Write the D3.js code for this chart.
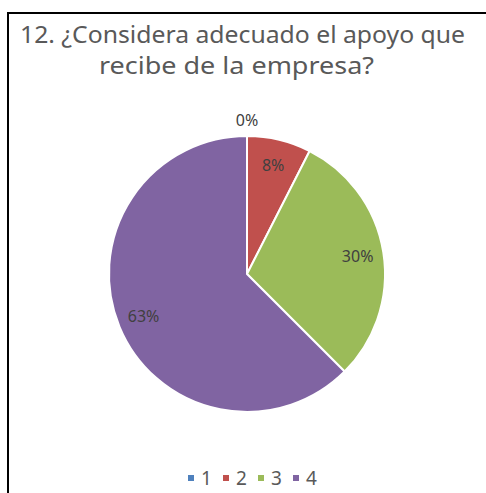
<!DOCTYPE html>
<html>
<head>
<meta charset="utf-8">
<script src="https://cdn.jsdelivr.net/npm/d3@7"></script>
<style>
  html, body { margin: 0; padding: 0; background: #fff; }
  svg { display: block; }
</style>
</head>
<body>
<script>
// chart data
var categories = ['1', '2', '3', '4'];
var counts = [0, 3, 12, 25];
var colors = ['#4F81BD', '#C0504D', '#9BBB59', '#8064A2'];
var titleLines = ['12. ¿Considera adecuado el apoyo que', 'recibe de la empresa?'];
var titleWidths = [445, 275];
var titleCenters = [242.5, 236.5];

var width = 486, height = 493;
var cx = 247, cy = 274, radius = 138;
var font = '"Noto Sans", "Open Sans", sans-serif';

var svg = d3.select('body').append('svg')
  .attr('width', width)
  .attr('height', height);

// chart frame (only left + top visible in crop)
svg.append('path')
  .attr('d', 'M8,' + height + 'V13H' + width)
  .attr('fill', 'none')
  .attr('stroke', '#000')
  .attr('stroke-width', 2);

// title
svg.append('g').selectAll('text')
  .data(titleLines)
  .enter().append('text')
  .attr('x', (d, i) => titleCenters[i])
  .attr('y', (d, i) => 43 + i * 31)
  .attr('text-anchor', 'middle')
  .attr('textLength', (d, i) => titleWidths[i])
  .attr('lengthAdjust', 'spacingAndGlyphs')
  .style('font-family', font)
  .style('font-size', '24px')
  .style('fill', '#595959')
  .text(d => d);

var total = d3.sum(counts);
var data = categories.map((c, i) => ({ cat: c, value: counts[i] }));

var pie = d3.pie().sort(null).value(d => d.value);
var arcs = pie(data);

var arc = d3.arc().innerRadius(0).outerRadius(radius);
var labelArc = d3.arc().innerRadius(112).outerRadius(112);
var outerLabelArc = d3.arc().innerRadius(radius + 16).outerRadius(radius + 16);

var color = d3.scaleOrdinal().domain(categories).range(colors);

var g = svg.append('g')
  .attr('transform', 'translate(' + cx + ',' + cy + ')');

g.selectAll('path')
  .data(arcs)
  .enter().append('path')
  .attr('d', arc)
  .attr('fill', d => color(d.data.cat))
  .attr('stroke', '#fff')
  .attr('stroke-width', 2)
  .attr('stroke-linejoin', 'round');

// data labels
g.selectAll('text')
  .data(arcs)
  .enter().append('text')
  .attr('transform', d => 'translate(' + (d.data.value === 0 ? outerLabelArc : labelArc).centroid(d) + ')')
  .attr('dy', '0.35em')
  .attr('text-anchor', 'middle')
  .style('font-family', font)
  .style('font-size', '16px')
  .style('fill', '#404040')
  .text(d => Math.round(d.data.value / total * 100) + '%');

// legend
var legend = svg.append('g')
  .attr('transform', 'translate(188,478)');

var item = legend.selectAll('g')
  .data(categories)
  .enter().append('g')
  .attr('transform', (d, i) => 'translate(' + (i * 35) + ',0)');

item.append('rect')
  .attr('x', 0)
  .attr('y', -3)
  .attr('width', 6)
  .attr('height', 6)
  .attr('fill', d => color(d));

item.append('text')
  .attr('x', 13)
  .attr('dy', '0.35em')
  .style('font-family', font)
  .style('font-size', '19px')
  .style('fill', '#595959')
  .text(d => d);
</script>
</body>
</html>
